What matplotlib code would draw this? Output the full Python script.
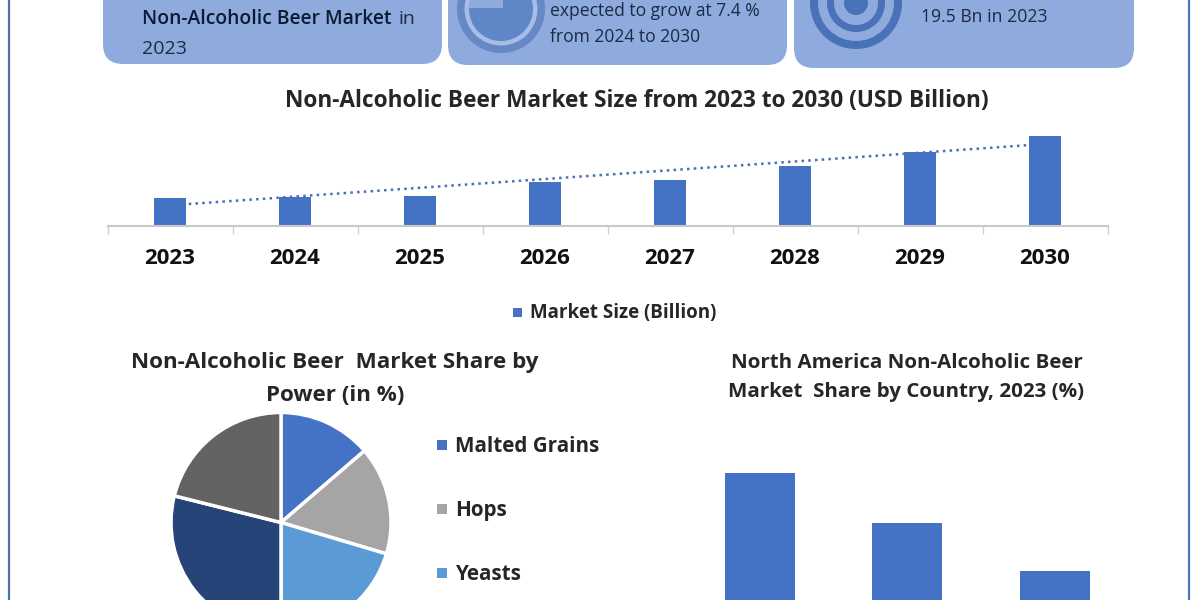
"""Non-alcoholic beer market infographic, cropped strip."""
import matplotlib
matplotlib.use("Agg")
import matplotlib.pyplot as plt
from matplotlib.patches import Circle, FancyBboxPatch, Rectangle, Wedge

plt.rcParams["font.family"] = ["Open Sans", "DejaVu Sans"]

years = ["2023", "2024", "2025", "2026", "2027", "2028", "2029", "2030"]
market_size = [28, 29, 30, 44, 46, 60, 74, 90]
trend_pos = [0.15, 6.88]
trend_vals = [22, 81]

share_labels = ["Malted Grains", "Hops", "Yeasts"]
share_vals = [13.7, 15.9, 20.4, 28.9, 21.1]
share_colors = ["#4472C4", "#A5A5A5", "#5B9BD5", "#264478", "#636363"]

country_vals = [127, 77, 29]

BLUE = "#4472C4"
PANEL = "#8FAADC"
DARK = "#262626"
HEAD = "#1B2B45"
W, H = 1200, 600


def axes_px(fig, left, top, right, bottom):
    return fig.add_axes([left / W, 1 - bottom / H, (right - left) / W, (bottom - top) / H])


fig = plt.figure(figsize=(12, 6), dpi=100)
bg = fig.add_axes([0, 0, 1, 1])
bg.set_xlim(0, W)
bg.set_ylim(H, 0)
bg.axis("off")

# frame lines and header panels
bg.plot([9, 9], [0, H], color="#4F74A8", lw=1.6)
bg.plot([1188.5, 1188.5], [0, H], color="#4F74C0", lw=1.6)
for x0, x1, y1 in [(103, 442, 64), (448, 787, 65), (794, 1134, 68)]:
    bg.add_patch(FancyBboxPatch((x0, -40), x1 - x0, y1 + 40,
                                boxstyle="round,pad=0,rounding_size=20", mutation_scale=1,
                                fc=PANEL, ec="none", zorder=1))

# pie-like icon
bg.add_patch(Circle((501, 9), 44, fc="#6688C4", ec="none", zorder=2))
bg.add_patch(Circle((501, 9), 36.5, fc="#A6BDE8", ec="none", zorder=2))
bg.add_patch(Circle((501, 9), 32, fc="#5F86C6", ec="none", zorder=2))
bg.add_patch(Wedge((503, 8), 34, 180, 270, fc=PANEL, ec="none", zorder=3))

# target icon
for r, c in [(46, "#4A72B8"), (38, PANEL), (29, "#4A72B8"), (22, PANEL), (12, "#4A72B8")]:
    bg.add_patch(Circle((856, 3), r, fc=c, ec="none", zorder=2))

# header text
bg.text(142, 19, "Non-Alcoholic Beer Market", fontsize=13.85, fontweight="semibold",
        color="#0B1B33", va="center", zorder=4)
bg.text(398, 19, "in", fontsize=14, color=HEAD, va="center", zorder=4)
bg.text(142, 49, "2023", fontsize=14, color=HEAD, va="center", zorder=4)
bg.text(550, 10.5, "expected to grow at 7.4 %", fontsize=12.65, color=HEAD, va="center", zorder=4)
bg.text(550, 37.5, "from 2024 to 2030", fontsize=12.65, color=HEAD, va="center", zorder=4)
bg.text(921, 17, "19.5 Bn in 2023", fontsize=12.7, color=HEAD, va="center", zorder=4)

# market size bars
ax = axes_px(fig, 107.5, 110, 1107.5, 226)
ax.bar(range(len(years)), market_size, width=0.258, color=BLUE, zorder=2)
ax.plot(trend_pos, trend_vals, color="#4A6FB5", lw=1.8, ls=(0, (1, 1.7)), zorder=3)
ax.set_xlim(-0.5, 7.5)
ax.set_ylim(0, 116)
ax.set_yticks([])
for s in ["top", "left", "right"]:
    ax.spines[s].set_visible(False)
ax.spines["bottom"].set_color("#C8C8C8")
ax.spines["bottom"].set_linewidth(1.5)
ax.patch.set_alpha(0)
ax.set_xticks([i - 0.5 for i in range(len(years) + 1)], labels=[])
ax.tick_params(axis="x", length=6, color="#D0D0D0", width=1)
for i, y in enumerate(years):
    ax.annotate(y, (i, 0), xytext=(0, -33), textcoords="offset pixels", xycoords=("data", "axes fraction"),
                ha="center", va="center", fontsize=16, fontweight="bold", color="#111111")

bg.text(637, 101, "Non-Alcoholic Beer Market Size from 2023 to 2030 (USD Billion)", ha="center", va="center",
        fontsize=16.3, fontweight="bold", color=DARK)
bg.add_patch(Rectangle((513, 308), 9, 9, fc=BLUE, ec="none"))
bg.text(530, 313, "Market Size (Billion)", va="center", fontsize=13.5, fontweight="bold", color=DARK)

# pie
pie_ax = axes_px(fig, 171, 412.5, 391, 632.5)
pie_ax.pie(share_vals, colors=share_colors, startangle=90, counterclock=False, radius=1,
           wedgeprops={"edgecolor": "white", "linewidth": 2.5})
pie_ax.set_xlim(-1.0, 1.0)
pie_ax.set_ylim(-1.0, 1.0)
bg.text(335, 362.5, "Non-Alcoholic Beer  Market Share by", ha="center", va="center", fontsize=16.1,
        fontweight="bold", color=DARK)
bg.text(335, 395.5, "Power (in %)", ha="center", va="center", fontsize=16.1, fontweight="bold", color=DARK)
for label, color, y in zip(share_labels, share_colors, [445, 509, 573]):
    bg.add_patch(Rectangle((437, y - 5), 10, 10, fc=color, ec="none"))
    bg.text(455, y + 1.5, label, va="center", fontsize=14.9, fontweight="bold", color=DARK)

# country bars
cx = axes_px(fig, 686.35, 440, 1128.25, 600)
cx.bar(range(len(country_vals)), country_vals, width=0.475, color=BLUE)
cx.set_xlim(-0.5, 2.5)
cx.set_ylim(0, 160)
cx.axis("off")
bg.text(906.5, 362.5, "North America Non-Alcoholic Beer", ha="center", va="center", fontsize=14.75,
        fontweight="bold", color=DARK)
bg.text(906.5, 392.5, "Market  Share by Country, 2023 (%)", ha="center", va="center", fontsize=14.75,
        fontweight="bold", color=DARK)

fig.savefig("out.png", dpi=100)
